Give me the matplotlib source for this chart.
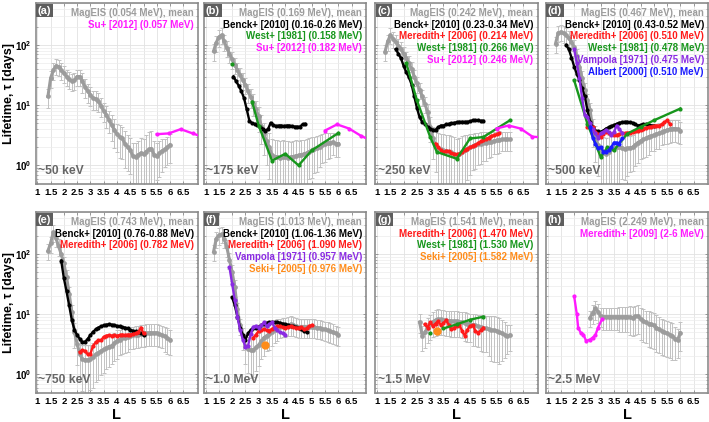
import numpy as np
import matplotlib.pyplot as plt

plt.rcParams['font.family'] = ['Liberation Sans', 'DejaVu Sans']
plt.rcParams['font.weight'] = 'bold'
plt.rcParams['mathtext.fontset'] = 'custom'
plt.rcParams['mathtext.rm'] = 'Liberation Sans:bold'
plt.rcParams['mathtext.bf'] = 'Liberation Sans:bold'

# ---------------- data ----------------
L_GRID = [1.3, 1.4, 1.5, 1.6, 1.7, 1.8, 1.9, 2.0, 2.1, 2.2, 2.3, 2.4, 2.5, 2.6, 2.7, 2.8,
          2.9, 3.0, 3.1, 3.2, 3.3, 3.4, 3.5, 3.6, 3.7, 3.8, 3.9, 4.0, 4.1, 4.2, 4.3, 4.4,
          4.5, 4.6, 4.7, 4.8, 4.9, 5.0, 5.1, 5.2, 5.3, 5.4, 5.5, 5.6, 5.7, 5.8, 5.9, 6.0]
nan = np.nan

# MagEIS mean lifetimes [days] and relative spread, one list per panel
mag_a = [nan, 14, 28, 38, 45, 44, 38, 34, 30, 27, 25, 26, 30, 30, 25, 20,
         17, 15, 13, 12.8, 11.9, 9.7, 8.1, 6.9, 5.7, 4.7, 3.9, 3.3, 3.0, 2.8, 2.3, 2.0,
         1.8, 1.43, 1.4, 1.5, 1.6, 1.55, 1.7, 1.85, 1.9, 1.5, 1.45, 1.6, 1.75, 1.85, 2.0, 2.2]
err_a = [nan, 0.35, 0.3, 0.3, 0.3, 0.3, 0.3, 0.3, 0.3, 0.3, 0.3, 0.3, 0.3, 0.3,
         0.35, 0.35, 0.35, 0.35, 0.35, 0.35, 0.35, 0.35, 0.35,
         0.4, 0.4, 0.45, 0.5, 0.5, 0.55, 0.55, 0.6,
         0.6, 0.6, 0.65, 0.7, 0.7, 0.75, 0.8, 0.85, 0.95, 1.0,
         0.7, 0.6, 0.6, 0.55, 0.5, 0.5, 0.5]

mag_b = [79, 110, 135, 147, 115, 90, 72, 58, 47, 38, 32, 26, 22, 17, 13.8, 11,
         8.5, 6.5, 4.5, 3.3, 2.5, 2.0, 1.5, 1.4, 1.4, 1.35, 1.38, 1.38, 1.35, 1.38, 1.4, 1.45,
         1.47, 1.5, 1.55, 1.6, 1.7, 1.78, 1.85, 1.95, 2.05, 2.2, 2.3, 2.35, 2.4, 2.45, 2.3, 2.3]
err_b = [0.3] * 13 + [0.35, 0.35, 0.4, 0.4, 0.45, 0.5, 0.55, 0.6,
                      0.7, 0.8, 0.9, 0.9, 0.9, 0.9, 0.85, 0.85, 0.8, 0.8, 0.8, 0.75, 0.75, 0.7, 0.7, 0.65, 0.65,
                      0.6, 0.6, 0.55, 0.5, 0.5, 0.45, 0.45, 0.4, 0.4, 0.4]

mag_c = [78, 115, 146, 128, 112, 98, 85, 72, 60, 50, 40, 30, 23, 18, 14, 10.5,
         7.8, 4.4, 2.8, 2.2, 1.95, 1.85, 1.78, 1.75, 1.7, 1.65, 1.55, 1.47, 1.55, 1.7, 1.8, 1.9,
         2.0, 2.1, 2.2, 2.25, 2.3, 2.36, 2.4, 2.43, 2.48, 2.55, 2.6, 2.65, 2.7, 2.7, 2.7, 2.7]
err_c = [0.3] * 16 + [0.35, 0.45, 0.55, 0.65,
                      0.75, 0.8, 0.85, 0.85, 0.9, 0.9, 0.9, 0.85, 0.85, 0.8, 0.75, 0.7, 0.65,
                      0.6, 0.6, 0.55, 0.55, 0.5, 0.5, 0.45, 0.45, 0.4, 0.4, 0.4, 0.35, 0.35, 0.35, 0.35]

mag_d = [106, 160, 165, 157, 145, 130, 112, 93, 65, 44, 28, 18, 12, 8.3, 4.0, 2.8,
         2.2, 1.8, 1.6, 1.56, 1.7, 1.9, 1.95, 2.0, 2.0, 1.95, 1.9, 1.92, 1.95, 2.0, 2.2, 2.4,
         2.55, 2.7, 2.8, 3.0, 3.1, 3.2, 3.35, 3.45, 3.6, 3.75, 3.85, 4.0, 4.1, 4.1, 4.0, 3.8]
err_d = [0.3] * 14 + [0.5, 0.6, 0.7, 0.8,
                      0.85, 0.85, 0.85, 0.8, 0.8, 0.75, 0.75, 0.7, 0.7, 0.65,
                      0.6, 0.6, 0.55, 0.55, 0.5, 0.5, 0.5, 0.5, 0.45, 0.45,
                      0.45, 0.45, 0.4, 0.4, 0.4, 0.4, 0.4, 0.4, 0.4, 0.4]

mag_e = [nan, 113, 150, 230, 185, 135, 100, 70, 42, 22, 11, 5.0, 3.2, 2.2, 1.78, 1.75,
         1.75, 1.8, 1.95, 2.15, 2.3, 2.45, 2.6, 2.75, 2.9, 3.0, 3.3, 3.6, 3.8, 4.0, 4.1, 4.25,
         4.35, 4.45, 4.55, 4.6, 4.7, 4.8, 4.85, 4.9, 4.9, 4.9, 4.9, 4.7, 4.5, 4.3, 4.0, 3.8]
err_e = [nan] + [0.3] * 10 + [0.45, 0.55, 0.65, 0.7, 0.75, 0.75, 0.7,
                              0.7, 0.65, 0.65, 0.6, 0.6, 0.55, 0.55, 0.5, 0.5, 0.5,
                              0.45, 0.45, 0.45, 0.45, 0.4, 0.4, 0.4, 0.4, 0.4, 0.4,
                              0.4, 0.4, 0.4, 0.4, 0.4, 0.4, 0.4, 0.45, 0.45, 0.45]

mag_f = [109, 180, 205, 215, 180, 130, 80, 50, 28, 12, 6.5, 4.2, 3.0, 2.6, 2.5, 2.55,
         2.8, 3.1, 3.6, 4.1, 4.4, 4.7, 5.0, 5.5, 6.0, 6.2, 6.4, 6.5, 6.6, 6.8, 6.7, 6.4,
         6.2, 6.2, 6.2, 6.2, 6.2, 6.2, 6.1, 6.0, 5.9, 5.7, 5.6, 5.4, 5.2, 5.0, 4.8, 4.6]
err_f = [0.3] * 11 + [0.4, 0.5, 0.6, 0.65, 0.65, 0.6, 0.55,
                      0.5, 0.5, 0.45, 0.45, 0.4, 0.4, 0.4] + [0.35] * 23

mag_g = [nan] * 13 + [7.4, 4.4, 5.0, 6.0, 6.8, 7.5, 8.0, 8.3, 8.2, 8.1, 7.9, 7.8, 7.7, 7.7, 7.7,
                      7.5, 7.4, 7.2, 7.0, 6.8, 6.6, 6.5, 6.3, 6.1, 6.0, 5.8, 5.7, 5.5, 5.4, 5.3,
                      5.0, 4.8, 4.6, 4.4, 4.5]
err_g = [nan] * 13 + [0.35, 0.45, 0.45, 0.45, 0.45, 0.45, 0.45, 0.45, 0.45, 0.45, 0.45, 0.45,
                      0.45, 0.45, 0.45, 0.45, 0.45, 0.5, 0.5, 0.5, 0.55, 0.55, 0.55, 0.6,
                      0.6, 0.6, 0.65, 0.7, 0.7, 0.7, 0.7, 0.65, 0.6, 0.5, 0.45]

mag_h = [nan] * 13 + [8.8, 10.5, 12.5, 11, 9.3, 9.1, 9.1, 9.1, 9.1, 9.1, 9.1, 9.1, 9.1, 9.1, 9.1,
                      9.0, 8.8, 9.2, 9.4, 8.3, 7.8, 7.3, 7.0, 6.8, 6.5, 6.0, 5.6, 5.3, 5.0, 4.8,
                      4.6, 4.4, 3.9, 3.8, 4.9]
err_h = [nan] * 13 + [0.3, 0.35, 0.35, 0.35, 0.35, 0.4, 0.4, 0.4, 0.4, 0.4, 0.4, 0.45,
                      0.45, 0.45, 0.45, 0.5, 0.5, 0.5, 0.5, 0.55, 0.55, 0.55, 0.6, 0.6,
                      0.6, 0.6, 0.6, 0.6, 0.6, 0.6, 0.6, 0.6, 0.55, 0.5, 0.5]

# previous studies
su_L = [5.5, 5.95, 6.4, 6.85, 7.3]
su_a = [3.3, 3.4, 4.0, 3.4, 2.9]
su_b = [3.8, 4.8, 4.1, 3.1, 2.5]
su_c = [4.1, 4.6, 4.1, 3.0, 2.9]

benck_b_L = [2.05, 2.15, 2.25, 2.35, 2.45, 2.55, 2.65, 2.75, 2.85, 2.95, 3.05, 3.15, 3.25, 3.35,
             3.45, 3.55, 3.65, 3.75, 3.85, 3.95, 4.05, 4.15, 4.25, 4.35, 4.45, 4.55, 4.65, 4.75]
benck_b = [30, 25, 21, 17, 13, 8.5, 5.5, 5.0, 4.9, 4.7, 4.4, 4.1, 3.8, 4.0,
           5.1, 4.7, 4.5, 4.6, 4.6, 4.5, 4.6, 4.6, 4.5, 4.4, 4.4, 4.4, 4.8, 4.9]
west_b_L = [2.0, 2.5, 2.75, 3.0, 3.5, 4.0, 4.5, 5.0, 6.0]
west_b = [49, nan, 11.4, 4.6, 1.2, 1.56, 1.0, 1.78, 3.45]

benck_c_L = [1.7, 1.8, 1.9, 2.0, 2.1, 2.2, 2.3, 2.4, 2.5, 2.6, 2.7, 2.8, 2.9, 3.0, 3.1, 3.2, 3.3,
             3.4, 3.5, 3.6, 3.7, 3.8, 3.9, 4.0, 4.1, 4.2, 4.3, 4.4, 4.5, 4.6, 4.7, 4.8, 4.9, 5.0]
benck_c = [85, 72, 60, 45, 35, 29, 22, 14, 9, 6.3, 5.3, 4.9, 4.4, 4.1, 3.9, 3.9, 4.3,
           4.6, 4.6, 4.8, 4.9, 5.0, 5.1, 5.2, 5.3, 5.3, 5.3, 5.3, 5.4, 5.6, 5.6, 5.6, 5.5, 5.5]
mered_c_L = [3.2, 3.3, 3.4, 3.5, 3.6, 3.7, 3.8, 3.9, 4.0, 4.1, 4.2, 4.3, 4.4, 4.5, 4.6, 4.7,
             4.8, 4.9, 5.0, 5.1, 5.2, 5.3, 5.4, 5.5, 5.6]
mered_c = [2.3, 2.0, 1.8, 1.67, 1.75, 1.73, 1.6, 1.56, 1.52, 1.55, 1.7, 1.8, 1.9, 2.0, 2.1, 2.2,
           2.35, 2.5, 2.6, 2.75, 2.9, 3.05, 3.2, 3.3, 3.4]
west_c_L = [2.1, 2.5, 3.0, 3.25, 4.0, 4.5, 5.0, 6.0]
west_c = [50, 12, 2.96, 1.67, 1.29, 2.8, 2.96, 5.6]

benck_d_L = [1.7, 1.8, 1.9, 2.0, 2.1, 2.2, 2.3, 2.4, 2.5, 2.6, 2.7, 2.8, 2.9, 3.0, 3.1, 3.2, 3.3,
             3.4, 3.5, 3.6, 3.7, 3.8, 3.9, 4.0, 4.1, 4.2, 4.3, 4.4, 4.5, 4.6, 4.7, 4.8, 4.9, 5.0]
benck_d = [100, 85, 62, 44, 33, 26, 19, 14, 8.3, 5.3, 4.3, 3.8, 3.7, 3.6, 3.8, 4.1, 4.3,
           4.5, 4.7, 4.9, 5.1, 5.2, 5.3, 5.3, 5.2, 5.1, 4.8, 4.6, 4.7, 4.8, 4.8, 4.7, 4.6, 4.6]
mered_d_L = [2.5, 2.6, 2.7, 2.8, 2.9, 3.0, 3.1, 3.2, 3.3, 3.4, 3.5, 3.6, 3.7, 3.8, 3.9, 4.0,
             4.1, 4.2, 4.3, 4.4, 4.5, 4.6, 4.7, 4.8, 4.9, 5.0, 5.1, 5.2, 5.3, 5.4, 5.5, 5.6]
mered_d = [4.4, 4.4, 4.3, 3.6, 3.3, 3.0, 3.3, 3.6, 3.4, 3.3, 3.2, 3.2, 3.3, 3.4, 3.4, 3.5,
           3.5, 3.6, 3.8, 3.8, 3.9, 4.1, 4.2, 4.3, 4.4, 4.5, 4.6, 4.6, 4.8, 5.2, 5.6, 4.9]
west_d_L = [2.0, 2.5, 3.0, 3.25, 3.5, 4.0, 4.5, 5.0, 6.0]
west_d = [26, 4.9, 1.38, 2.0, 1.78, 3.37, 4.35, 5.6, 8.8]
vamp_d_L = [2.0, 2.1, 2.2, 2.3, 2.4, 2.5, 2.6, 2.7, 2.8, 2.9, 3.0, 3.1, 3.2, 3.3, 3.4, 3.5,
            3.6, 3.7, 3.8]
vamp_d = [85, 50, 28, 13, 7.0, 6.4, 5.0, 4.0, 3.4, 2.9, 3.4, 3.6, 3.9, 3.6, 3.2, 3.6,
          4.6, 4.0, 3.5]
albert_d_L = [2.6, 2.7, 2.8, 2.9, 3.0, 3.1, 3.2, 3.3, 3.4, 3.5, 3.6, 3.7, 3.8]
albert_d = [4.4, 2.9, 2.3, 1.95, 2.0, 1.7, 1.7, 1.8, 2.0, 2.4, 2.4, 2.3, 2.8]

benck_e_L = [1.9, 2.0, 2.1, 2.2, 2.3, 2.4, 2.5, 2.6, 2.7, 2.8, 2.9, 3.0, 3.1, 3.2, 3.3, 3.4,
             3.5, 3.6, 3.7, 3.8, 3.9, 4.0, 4.1, 4.2, 4.3, 4.4, 4.5, 4.6, 4.7, 4.8, 4.9, 5.0]
benck_e = [78, 40, 24, 14, 8.0, 5.5, 4.5, 3.9, 3.45, 3.5, 3.9, 4.5, 5.1, 5.6, 6.0, 6.3,
           6.5, 6.7, 6.8, 6.7, 6.6, 6.4, 6.3, 6.1, 6.0, 5.8, 5.5, 5.3, 5.2, 5.0, 4.8, 4.6]
mered_e_L = [2.6, 2.7, 2.8, 2.9, 3.0, 3.1, 3.2, 3.3, 3.4, 3.5, 3.6, 3.7, 3.8, 3.9, 4.0, 4.1,
             4.2, 4.3, 4.4, 4.5, 4.6, 4.7, 4.8, 4.9, 5.0]
mered_e = [2.36, 2.5, 2.45, 2.15, 2.2, 3.0, 3.4, 3.7, 3.7, 4.2, 4.4, 4.5, 4.4, 4.5, 4.4, 4.5,
           4.6, 4.5, 4.6, 4.6, 4.7, 4.8, 5.0, 6.0, 4.8]

benck_f_L = [2.0, 2.1, 2.2, 2.3, 2.4, 2.5, 2.6, 2.7, 2.8, 2.9, 3.0, 3.1, 3.2, 3.3, 3.4, 3.5,
             3.6, 3.7, 3.8, 3.9, 4.0, 4.1, 4.2, 4.3, 4.4, 4.5, 4.6, 4.7, 4.8]
benck_f = [19, 14, 9, 6.0, 4.6, 3.8, 4.8, 5.5, 5.9, 6.0, 6.2, 6.5, 7.0, 7.2, 7.3, 7.3,
           7.4, 7.4, 7.2, 7.0, 6.8, 6.6, 6.4, 6.3, 6.1, 6.0, 5.6, 5.2, 5.1]
mered_f_L = [2.8, 2.9, 3.0, 3.1, 3.2, 3.3, 3.4, 3.5, 3.6, 3.7, 3.8, 3.9, 4.0, 4.1, 4.2, 4.3,
             4.4, 4.5, 4.6, 4.7, 4.8, 4.9, 5.0]
mered_f = [4.1, 4.6, 5.3, 5.5, 5.6, 5.4, 5.3, 5.7, 6.0, 6.3, 6.4, 6.1, 6.0, 6.2, 6.3, 6.1,
           6.0, 6.0, 6.1, 5.6, 5.8, 6.4, 6.6]
vamp_f_L = [1.9, 2.0, 2.1, 2.2, 2.3, 2.4, 2.5, 2.6, 2.7, 2.8, 2.9, 3.0, 3.1, 3.2, 3.3, 3.4,
            3.5, 3.6, 3.7, 3.8, 3.9, 4.0]
vamp_f = [60, 32, 17, 9, 5.5, 3.8, 2.9, 3.0, 4.7, 6.2, 6.4, 6.0, 6.5, 7.3, 6.3, 6.8,
          7.4, 6.0, 5.4, 5.0, 4.8, 4.6]
seki_f_L = [3.22]
seki_f = [3.05]

mered_g_L = [2.8, 2.9, 3.0, 3.1, 3.2, 3.3, 3.4, 3.5, 3.6, 3.7, 3.8, 3.9, 4.0, 4.1, 4.2, 4.3,
             4.4, 4.5, 4.6, 4.7, 4.8, 4.9, 5.0]
mered_g = [6.8, 6.0, 7.3, 6.4, 7.0, 7.7, 6.6, 7.1, 8.0, 6.6, 5.6, 6.0, 6.4, 6.6, 5.3, 4.4,
           5.5, 6.4, 6.6, 5.3, 4.9, 5.4, 6.0]
west_g_L = [3.0, 3.25, 3.5, 4.0, 4.5, 5.0]
west_g = [4.9, nan, 5.8, 6.8, 8.1, 9.1]
seki_g_L = [3.25]
seki_g = [5.3]

mered09_h_L = [2.0, 2.1, 2.15, 2.25, 2.35, 2.45, 2.6, 2.7, 2.8, 2.9, 3.05]
mered09_h = [20, 10, 6.0, 4.9, 4.6, 3.6, 3.8, 4.1, 4.5, 6.0, 8.3]

XTICKS = [1, 1.5, 2, 2.5, 3, 3.5, 4, 4.5, 5, 5.5, 6, 6.5]
XTICK_LABELS = ['1', '1.5', '2', '2.5', '3', '3.5', '4', '4.5', '5', '5.5', '6', '6.5']
YTICKS = [1, 10, 100]
YTICK_LABELS = [r'$\mathbf{10^{0}}$', r'$\mathbf{10^{1}}$', r'$\mathbf{10^{2}}$']

GRAY = '#9c9c9c'
BLACK = '#000000'
RED = '#ff1a1a'
GREEN = '#17961c'
MAGENTA = '#ff1aff'
PURPLE = '#8a2be2'
BLUE = '#1a1aff'
ORANGE = '#ff8c1a'

panels = [
    ('(a)', '~50 keV', mag_a, err_a,
     [(su_L, su_a, MAGENTA)],
     [('MagEIS (0.054 MeV), mean', GRAY), ('Su+ [2012] (0.057 MeV)', MAGENTA)]),
    ('(b)', '~175 keV', mag_b, err_b,
     [(benck_b_L, benck_b, BLACK), (west_b_L, west_b, GREEN), (su_L, su_b, MAGENTA)],
     [('MagEIS (0.169 MeV), mean', GRAY), ('Benck+ [2010] (0.16-0.26 MeV)', BLACK),
      ('West+ [1981] (0.158 MeV)', GREEN), ('Su+ [2012] (0.182 MeV)', MAGENTA)]),
    ('(c)', '~250 keV', mag_c, err_c,
     [(benck_c_L, benck_c, BLACK), (mered_c_L, mered_c, RED), (west_c_L, west_c, GREEN),
      (su_L, su_c, MAGENTA)],
     [('MagEIS (0.242 MeV), mean', GRAY), ('Benck+ [2010] (0.23-0.34 MeV)', BLACK),
      ('Meredith+ [2006] (0.214 MeV)', RED), ('West+ [1981] (0.266 MeV)', GREEN),
      ('Su+ [2012] (0.246 MeV)', MAGENTA)]),
    ('(d)', '~500 keV', mag_d, err_d,
     [(benck_d_L, benck_d, BLACK), (mered_d_L, mered_d, RED), (west_d_L, west_d, GREEN),
      (vamp_d_L, vamp_d, PURPLE), (albert_d_L, albert_d, BLUE)],
     [('MagEIS (0.467 MeV), mean', GRAY), ('Benck+ [2010] (0.43-0.52 MeV)', BLACK),
      ('Meredith+ [2006] (0.510 MeV)', RED), ('West+ [1981] (0.478 MeV)', GREEN),
      ('Vampola [1971] (0.475 MeV)', PURPLE), ('Albert [2000] (0.510 MeV)', BLUE)]),
    ('(e)', '~750 keV', mag_e, err_e,
     [(benck_e_L, benck_e, BLACK), (mered_e_L, mered_e, RED)],
     [('MagEIS (0.743 MeV), mean', GRAY), ('Benck+ [2010] (0.76-0.88 MeV)', BLACK),
      ('Meredith+ [2006] (0.782 MeV)', RED)]),
    ('(f)', '~1.0 MeV', mag_f, err_f,
     [(benck_f_L, benck_f, BLACK), (mered_f_L, mered_f, RED), (vamp_f_L, vamp_f, PURPLE)],
     [('MagEIS (1.013 MeV), mean', GRAY), ('Benck+ [2010] (1.06-1.36 MeV)', BLACK),
      ('Meredith+ [2006] (1.090 MeV)', RED), ('Vampola [1971] (0.957 MeV)', PURPLE),
      ('Seki+ [2005] (0.976 MeV)', ORANGE)]),
    ('(g)', '~1.5 MeV', mag_g, err_g,
     [(mered_g_L, mered_g, RED), (west_g_L, west_g, GREEN)],
     [('MagEIS (1.541 MeV), mean', GRAY), ('Meredith+ [2006] (1.470 MeV)', RED),
      ('West+ [1981] (1.530 MeV)', GREEN), ('Seki+ [2005] (1.582 MeV)', ORANGE)]),
    ('(h)', '~2.5 MeV', mag_h, err_h,
     [(mered09_h_L, mered09_h, MAGENTA)],
     [('MagEIS (2.249 MeV), mean', GRAY), ('Meredith+ [2009] (2-6 MeV)', MAGENTA)]),
]
seki_points = {'(f)': (seki_f_L, seki_f), '(g)': (seki_g_L, seki_g)}

# ---------------- figure ----------------
W, H = 709, 422
fig = plt.figure(figsize=(W / 100, H / 100), dpi=100)

col_left = [35.7, 204, 375.5, 546]
row_top = [3, 212]
aw, ah = 162, 180.5

for i, (tag, energy, mag, err, series, legend) in enumerate(panels):
    row, col = divmod(i, 4)
    ax = fig.add_axes([col_left[col] / W, 1 - (row_top[row] + ah) / H, aw / W, ah / H])
    ax.set_yscale('log')
    ax.set_xlim(0.94, 7.04)
    ax.set_ylim(0.5, 500)

    ax.grid(True, which='major', color='#e2e2e2', lw=0.6)
    ax.grid(True, which='minor', axis='y', color='#ececec', lw=0.5)
    ax.set_axisbelow(True)

    # MagEIS mean with spread
    L = np.array(L_GRID)
    v = np.array(mag, dtype=float)
    r = np.array(err, dtype=float)
    lo = v * np.minimum(r, 0.995)
    hi = v * r
    ax.errorbar(L, v, yerr=[lo, hi], fmt='none', ecolor='#c2c2c2', elinewidth=0.7,
                capsize=1.6, capthick=0.7, zorder=2)
    ax.plot(L, v, '-o', color=GRAY, lw=2.2, ms=2.4, zorder=3)

    for sL, sv, c in series:
        ax.plot(sL, sv, '-o', color=c, lw=1.7, ms=2.0, zorder=4)
    if tag in seki_points:
        sL, sv = seki_points[tag]
        ax.plot(sL, sv, 'o', color=ORANGE, ms=5, zorder=5)

    for k, (txt, c) in enumerate(legend):
        ax.text(0.975, 0.945 - k * 0.065, txt, transform=ax.transAxes, ha='right',
                va='center', fontsize=7, color=c, fontweight='bold', zorder=6)

    ax.text(0.012, 0.985, tag, transform=ax.transAxes, ha='left', va='top', fontsize=8,
            color='white', fontweight='bold', zorder=7,
            bbox=dict(boxstyle='square,pad=0.15', fc='#5e5e5e', ec='none'))
    ax.text(0.015, 0.035, energy, transform=ax.transAxes, ha='left', va='bottom',
            fontsize=8.7, color='#666666', fontweight='bold', zorder=6)

    ax.set_xticks(XTICKS)
    ax.set_xticklabels(XTICK_LABELS)
    ax.set_yticks(YTICKS)
    ax.set_yticklabels(YTICK_LABELS)
    ax.tick_params(which='both', direction='in', top=True, right=True, color='#8a8a8a',
                   pad=3)
    ax.tick_params(axis='x', labelsize=6.8)
    ax.tick_params(axis='y', labelsize=7)
    ax.tick_params(which='major', length=2.5, width=0.6)
    ax.tick_params(which='minor', length=1.5, width=0.5)
    for s in ax.spines.values():
        s.set_color('#8c8c8c')
        s.set_linewidth(1.2)
    if col == 0:
        ax.set_ylabel('Lifetime, \u03c4 [days]', fontsize=9, fontweight='bold')
        ax.yaxis.set_label_coords(-0.128, 0.5)
    else:
        ax.tick_params(labelleft=False)
    if row == 1:
        ax.set_xlabel('L', fontsize=10.5, fontweight='bold', labelpad=2)

fig.savefig('out.png', dpi=100)
